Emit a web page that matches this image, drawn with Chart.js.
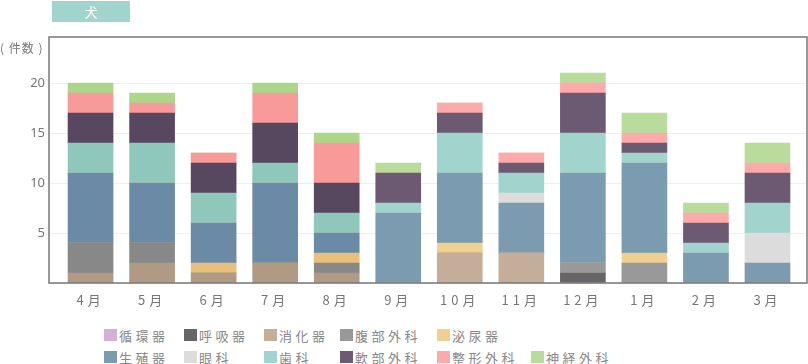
<!DOCTYPE html>
<html lang="ja">
<head>
<meta charset="utf-8">
<script src="https://cdn.jsdelivr.net/npm/chart.js@4/dist/chart.umd.min.js"></script>
<style>
    body { margin: 0; background: #fff; font-family: "Noto Sans CJK JP", "Noto Sans", sans-serif; }
    #wrap { position: relative; width: 808px; height: 364px; overflow: hidden; }
    #tab { position: absolute; left: 52px; top: 1px; width: 78px; height: 21px; background: #a0d4cc;
        color: #fff; font-size: 13px; line-height: 21px; text-align: center; }
    #unit { position: absolute; left: 0; top: 39px; font-size: 12px; color: #777; letter-spacing: 1px; line-height: 18px; }
    #chart { position: absolute; left: 0; top: 0; }
    #legend { position: absolute; left: 104px; top: 326px; display: grid;
        grid-template-columns: 80px 80px 76px 97px 94px 120px; row-gap: 4px; }
    .item { display: flex; align-items: center; height: 18px; font-size: 13px; color: #888; letter-spacing: 3.5px; white-space: nowrap; }
    .item i { display: inline-block; width: 13px; height: 12px; margin-right: 2px; }
</style>
</head>
<body>
<div id="wrap">
    <canvas id="chart" width="808" height="320"></canvas>
    <div id="tab">犬</div>
    <div id="unit">( 件数 )</div>
    <div id="legend"></div>
</div>
<script>
const months = ['4月', '5月', '6月', '7月', '8月', '9月', '10月', '11月', '12月', '1月', '2月', '3月'];
const seriesNames = ['循環器', '呼吸器', '消化器', '腹部外科', '泌尿器', '生殖器', '眼科', '歯科', '軟部外科', '整形外科', '神経外科'];
const yTicks = [5, 10, 15, 20];

const circulatory = [0, 0, 0, 0, 0, 0, 0, 0, 0, 0, 0, 0];
const respiratory = [0, 0, 0, 0, 0, 0, 0, 0, 1, 0, 0, 0];
const digestive   = [1, 2, 1, 2, 1, 0, 3, 3, 0, 0, 0, 0];
const abdominal   = [3, 2, 0, 0, 1, 0, 0, 0, 1, 2, 0, 0];
const urinary     = [0, 0, 1, 0, 1, 0, 1, 0, 0, 1, 0, 0];
const genital     = [7, 6, 4, 8, 2, 7, 7, 5, 9, 9, 3, 2];
const eye         = [0, 0, 0, 0, 0, 0, 0, 1, 0, 0, 0, 3];
const dental      = [3, 4, 3, 2, 2, 1, 4, 2, 4, 1, 1, 3];
const softTissue  = [3, 3, 3, 4, 3, 3, 2, 1, 4, 1, 2, 3];
const orthopedic  = [2, 1, 1, 3, 4, 0, 1, 1, 1, 1, 1, 1];
const neuro       = [1, 1, 0, 1, 1, 1, 0, 0, 1, 2, 1, 2];

const seriesValues = [circulatory, respiratory, digestive, abdominal, urinary, genital,
    eye, dental, softTissue, orthopedic, neuro];

// first months are drawn a bit stronger than the rest
const strongColors = ['#cca3cd', '#5a5a5a', '#b09a84', '#888888', '#e8c07c', '#6a8aa5',
    '#d8d8d8', '#8fc7bb', '#57485f', '#f89a9a', '#acd68a'];
const softColors = ['#d4b0d4', '#666666', '#c4ae9a', '#999999', '#f0d090', '#7a9bb0',
    '#dcdcdc', '#a0d4cc', '#6b5a72', '#ffaaaa', '#b8dc9c'];
const strongCount = 5;

const frame = {
    id: 'frame',
    afterDatasetsDraw(chart) {
        const a = chart.chartArea, c = chart.ctx;
        c.save();
        c.strokeStyle = '#777';
        c.lineWidth = 1.5;
        c.strokeRect(a.left, a.top, a.right - a.left, a.bottom - a.top);
        c.restore();
    }
};

const spacedLabels = {
    id: 'spacedLabels',
    beforeDraw(chart) {
        const sc = chart.scales.x;
        if (sc._spaced) return;
        const orig = sc.drawLabels;
        sc.drawLabels = function (area) {
            this.ctx.save();
            this.ctx.letterSpacing = '4px';
            orig.call(this, area);
            this.ctx.restore();
        };
        sc._spaced = true;
    }
};

new Chart(document.getElementById('chart'), {
    type: 'bar',
    data: {
        datasets: seriesNames.map((name, k) => ({
            label: name,
            data: seriesValues[k].map((v, i) => ({ x: i, y: v })),
            backgroundColor: ctx => ctx.dataIndex < strongCount ? strongColors[k] : softColors[k],
            borderWidth: 0,
            barThickness: 45
        }))
    },
    options: {
        responsive: false,
        animation: false,
        devicePixelRatio: 1,
        layout: { padding: { top: 37, right: 1, left: 0, bottom: 0 } },
        plugins: { legend: { display: false }, tooltip: { enabled: false } },
        scales: {
            x: {
                type: 'linear',
                stacked: true,
                offset: false,
                min: -0.675,
                max: 11.642,
                afterBuildTicks: s => { s.ticks = months.map((m, i) => ({ value: i })); },
                afterFit: s => { s.height = 37; },
                grid: { display: false, drawTicks: false },
                border: { display: false },
                ticks: {
                    callback: v => months[v],
                    color: '#777',
                    font: { family: '"Noto Sans CJK JP", sans-serif', size: 13 },
                    padding: 9,
                    maxRotation: 0,
                    autoSkip: false
                }
            },
            y: {
                stacked: true,
                min: 0,
                max: 24.6,
                afterBuildTicks: s => { s.ticks = [0].concat(yTicks).map(v => ({ value: v })); },
                afterFit: s => { s.width = 49; },
                grid: { color: '#eeeeee', drawTicks: false },
                border: { display: false },
                ticks: {
                    callback: v => v === 0 ? '' : v,
                    color: '#777',
                    font: { family: '"Noto Sans", sans-serif', size: 13 },
                    padding: 4
                }
            }
        }
    },
    plugins: [frame, spacedLabels]
});

// legend: first five names on the top row, the rest below
const legend = document.getElementById('legend');
seriesNames.forEach((name, k) => {
    const el = document.createElement('div');
    el.className = 'item';
    el.style.gridRow = k < 5 ? 1 : 2;
    el.style.gridColumn = k < 5 ? k + 1 : k - 4;
    el.innerHTML = '<i style="background:' + softColors[k] + '"></i>' + name;
    legend.appendChild(el);
});
</script>
</body>
</html>
